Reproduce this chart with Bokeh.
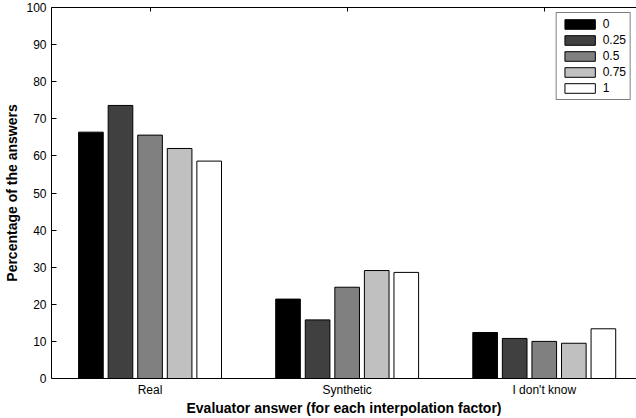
from bokeh.plotting import figure
from bokeh.models import (Range1d, FixedTicker, LinearAxis, Legend, LegendItem,
                          ColumnDataSource)
from bokeh.transform import dodge
from bokeh.embed import file_html
from bokeh.resources import INLINE

# ---- data -------------------------------------------------------------
categories = ["Real", "Synthetic", "I don't know"]
factors = ["0", "0.25", "0.5", "0.75", "1"]
v_0 = [66.4, 21.4, 12.4]
v_025 = [73.6, 15.8, 10.8]
v_05 = [65.6, 24.6, 10.0]
v_075 = [62.0, 29.1, 9.5]
v_1 = [58.6, 28.6, 13.4]
y_ticks = [0, 10, 20, 30, 40, 50, 60, 70, 80, 90, 100]

# ---- style ------------------------------------------------------------
FONT = "Liberation Sans"
colors = ["#000000", "#404040", "#808080", "#c0c0c0", "#ffffff"]
BAR_W = 0.125
STEP = 0.15

x_pos = list(range(1, len(categories) + 1))
series = [v_0, v_025, v_05, v_075, v_1]
data = {"x": x_pos}
for f, vals in zip(factors, series):
    data[f] = vals
src = ColumnDataSource(data)

p = figure(width=636, height=418,
           x_range=Range1d(0.5, 3.468), y_range=Range1d(0, 100),
           output_backend="svg", toolbar_location=None,
           min_border_left=51, min_border_right=0,
           min_border_top=7, min_border_bottom=40)
p.outline_line_color = None
p.xgrid.visible = False
p.ygrid.visible = False
p.background_fill_color = "white"

renderers = []
n = len(factors)
for i, (f, c) in enumerate(zip(factors, colors)):
    off = (i - (n - 1) / 2) * STEP
    r = p.vbar(x=dodge("x", off, range=p.x_range), top=f, width=BAR_W,
               source=src, fill_color=c, line_color="black", line_width=1)
    renderers.append(r)

# x axis (bottom)
xa = p.xaxis[0]
xa.ticker = FixedTicker(ticks=x_pos)
xa.major_label_overrides = {x: c for x, c in zip(x_pos, categories)}
xa.major_tick_in = 0
xa.major_tick_out = 0
xa.minor_tick_line_color = None
xa.major_label_standoff = 4
xa.major_label_text_font = FONT
xa.major_label_text_font_size = "12px"
xa.major_label_text_color = "black"
xa.axis_label = "Evaluator answer (for each interpolation factor)"
xa.axis_label_text_font = FONT
xa.axis_label_text_font_size = "14px"
xa.axis_label_text_font_style = "bold"
xa.axis_label_text_color = "black"
xa.axis_label_standoff = 0
xa.axis_line_color = "black"

# y axis (left)
ya = p.yaxis[0]
ya.ticker = FixedTicker(ticks=y_ticks)
ya.major_tick_in = 5
ya.major_tick_out = 0
ya.minor_tick_line_color = None
ya.major_label_standoff = 5
ya.major_label_text_font = FONT
ya.major_label_text_font_size = "12px"
ya.major_label_text_color = "black"
ya.axis_label = "Percentage of the answers"
ya.axis_label_text_font = FONT
ya.axis_label_text_font_size = "14px"
ya.axis_label_text_font_style = "bold"
ya.axis_label_text_color = "black"
ya.axis_label_standoff = 3
ya.axis_line_color = "black"

# top axis: line + inward ticks at categories (no labels)
top = LinearAxis(ticker=FixedTicker(ticks=x_pos), major_tick_in=4,
                 major_tick_out=0, minor_tick_line_color=None,
                 major_label_overrides={x: "" for x in x_pos},
                 major_label_text_font_size="1px", major_label_standoff=0,
                 axis_line_color="black")
p.add_layout(top, "above")

legend = Legend(items=[LegendItem(label=f, renderers=[r])
                       for f, r in zip(factors, renderers)],
                location="top_right", orientation="vertical",
                border_line_color="black", border_line_width=1,
                background_fill_color="white", background_fill_alpha=1,
                label_text_font=FONT, label_text_font_size="12px",
                label_text_color="black",
                glyph_width=38, glyph_height=12, label_height=12,
                label_standoff=4, spacing=2, padding=4, margin=5)
p.add_layout(legend)

open("out.html", "w").write(file_html(p, INLINE))
